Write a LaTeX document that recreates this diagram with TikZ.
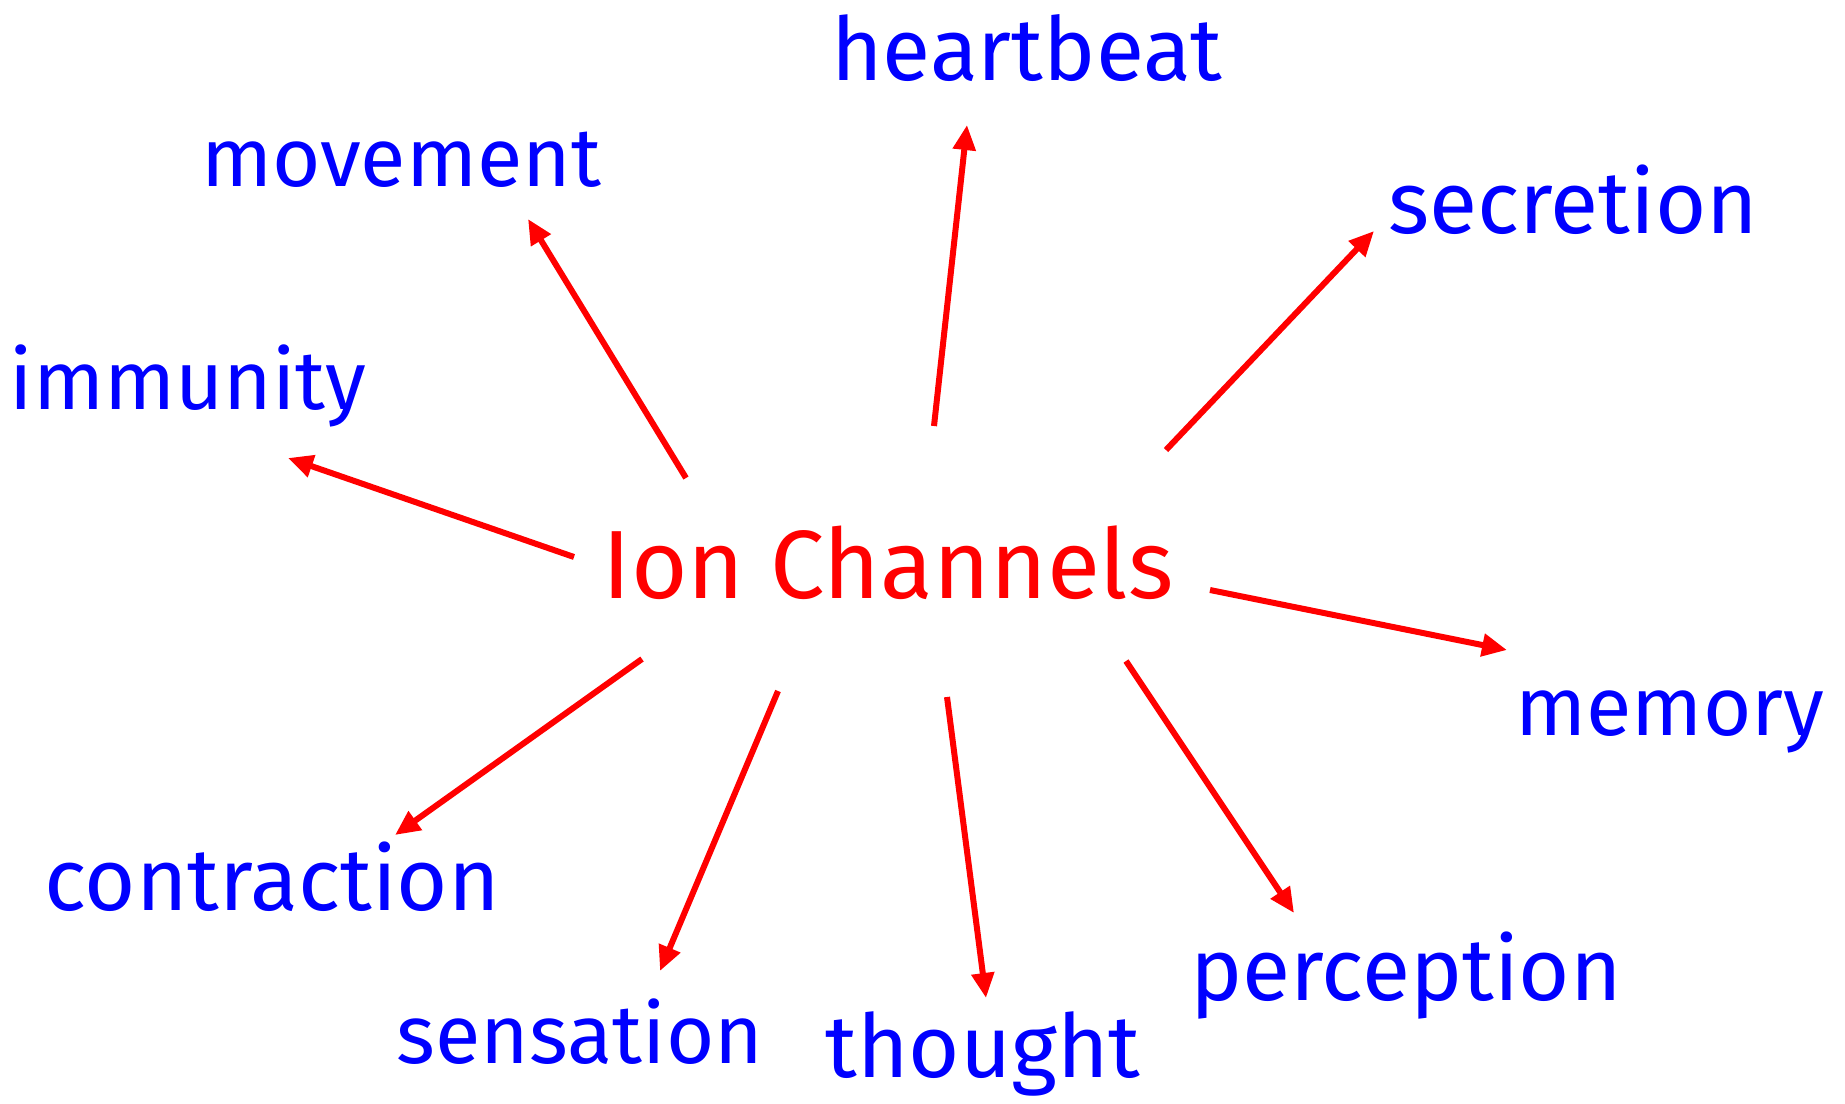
\documentclass[tikz,border=0pt]{standalone}
\usepackage{fontspec}
\setmainfont{Fira Sans}
\usetikzlibrary{arrows.meta}
\tikzset{
  topic/.style={text=blue,font=\fontsize{44}{48}\selectfont,inner sep=0pt,anchor=base},
  narrow/.style={font=\fontsize{41.5}{46}\selectfont},
  core/.style={text=red,font=\fontsize{48.5}{52}\selectfont,inner sep=0pt,anchor=base},
  edge/.style={-{Triangle[length=12.5pt,width=11pt]},red,line width=3pt}
}
\begin{document}
\begin{tikzpicture}[x=0.5pt,y=-0.5pt]
\useasboundingbox (0,0) rectangle (1845,1103);
\node[core] (ion) at (888,598) {Ion Channels};
\node[topic] (heart) at (1027,80) {heartbeat};
\node[topic,narrow] (move) at (401,186) {movement};
\node[topic] (secr) at (1573,233) {secretion};
\node[topic,narrow] (immu) at (188,409) {immunity};
\node[topic,narrow] (mem) at (1670,735) {memory};
\node[topic] (contr) at (272,910) {contraction};
\node[topic,narrow] (sens) at (580,1063) {sensation};
\node[topic] (thou) at (983,1077) {thought};
\node[topic] (perc) at (1406,1000) {perception};
% arrow ends round the centre
\coordinate (s-move) at (686,478);  \coordinate (t-move) at (528,219);
\coordinate (s-heart) at (934,426); \coordinate (t-heart) at (967,125);
\coordinate (s-secr) at (1166,450); \coordinate (t-secr) at (1374,231);
\coordinate (s-immu) at (574,557);  \coordinate (t-immu) at (288,458);
\coordinate (s-mem) at (1210,590);  \coordinate (t-mem) at (1507,650);
\coordinate (s-contr) at (642,659); \coordinate (t-contr) at (395,835);
\coordinate (s-sens) at (778,691);  \coordinate (t-sens) at (660,971);
\coordinate (s-thou) at (947,697);  \coordinate (t-thou) at (986,998);
\coordinate (s-perc) at (1126,661); \coordinate (t-perc) at (1294,913);
\draw[edge] (s-move)--(t-move);
\draw[edge] (s-heart)--(t-heart);
\draw[edge] (s-secr)--(t-secr);
\draw[edge] (s-immu)--(t-immu);
\draw[edge] (s-mem)--(t-mem);
\draw[edge] (s-contr)--(t-contr);
\draw[edge] (s-sens)--(t-sens);
\draw[edge] (s-thou)--(t-thou);
\draw[edge] (s-perc)--(t-perc);
\end{tikzpicture}
\end{document}
